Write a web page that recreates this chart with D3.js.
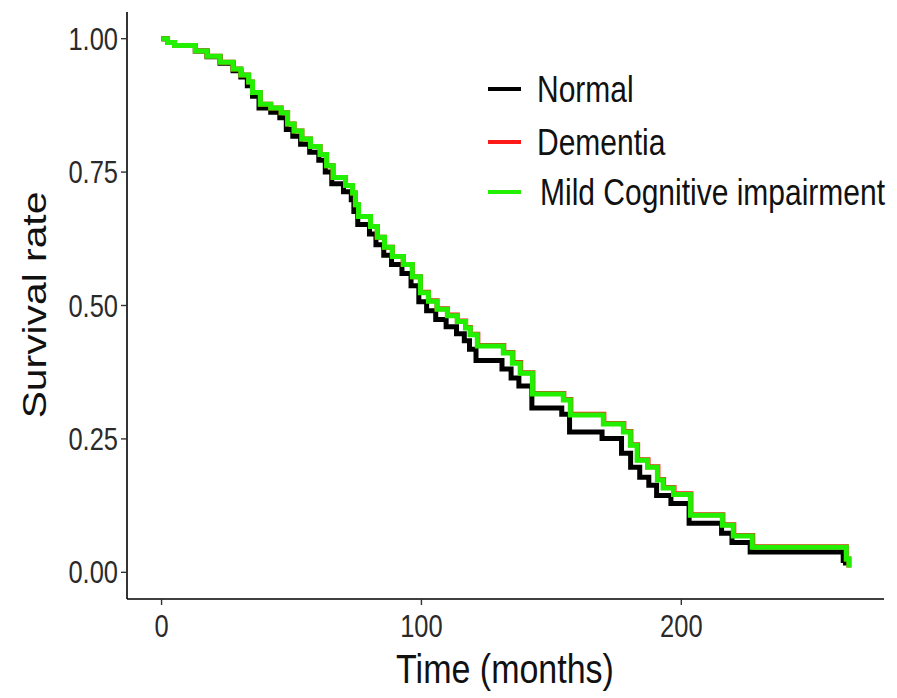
<!DOCTYPE html>
<html>
<head>
<meta charset="utf-8">
<script src="https://cdnjs.cloudflare.com/ajax/libs/d3/7.8.5/d3.min.js"></script>
<style>
  body { margin: 0; background: #fff; }
  text { font-family: "Liberation Sans", Arial, sans-serif; }
</style>
</head>
<body>
<div id="chart"></div>
<script>
// Kaplan-Meier step values (time in months, survival rate)
const normalTime = [0, 2.3, 5, 13, 17.5, 22.5, 27.5, 30.5, 33, 35, 37.5, 42, 45.5, 48, 50.5, 53.5, 57, 60.5, 63, 65.5,
  70, 73, 74, 75.5, 80, 82.5, 85.5, 88.5, 92.5, 96, 99, 102, 105.5, 109.5, 113.5, 116.5, 118.5, 121, 131, 134.5,
  137.5, 142.5, 154, 157, 169.5, 177, 180.5, 184, 187.5, 190.5, 196, 203, 215.5, 219.5, 226.5, 262.3, 263.2];
const normalSurv = [1.000, 0.993, 0.987, 0.977, 0.966, 0.954, 0.940, 0.928, 0.912, 0.892, 0.870, 0.862, 0.852, 0.830,
  0.817, 0.802, 0.787, 0.772, 0.750, 0.728, 0.713, 0.698, 0.676, 0.652, 0.634, 0.614, 0.594, 0.577, 0.560, 0.537,
  0.507, 0.490, 0.474, 0.460, 0.447, 0.434, 0.418, 0.397, 0.381, 0.364, 0.349, 0.308, 0.296, 0.263, 0.251, 0.223,
  0.197, 0.178, 0.163, 0.144, 0.129, 0.092, 0.073, 0.056, 0.038, 0.022, 0.013];

const dementiaTime = [0, 2.3, 5, 13, 17.5, 22.5, 27.5, 30.5, 33.5, 35, 38, 42, 46, 48.5, 51, 54, 57.3, 61, 63.5, 66,
  70.8, 73.5, 74.6, 75.8, 80.4, 83, 85.8, 88.8, 93, 96.5, 99.6, 102.7, 106, 110, 113.8, 117, 118.8, 121.7, 131.7, 135.2,
  138.2, 142.9, 154.8, 157.5, 170.2, 177.9, 180.6, 183.2, 187.2, 191, 193.2, 197.2, 203.7, 216, 220.2, 227.5, 263.5, 264.5];
const dementiaSurv = [1.000, 0.993, 0.987, 0.977, 0.967, 0.956, 0.943, 0.932, 0.919, 0.899, 0.877, 0.870, 0.861, 0.840,
  0.827, 0.812, 0.798, 0.783, 0.762, 0.740, 0.725, 0.711, 0.689, 0.667, 0.648, 0.628, 0.609, 0.592, 0.577, 0.554,
  0.525, 0.509, 0.494, 0.482, 0.471, 0.459, 0.446, 0.425, 0.412, 0.393, 0.374, 0.335, 0.324, 0.296, 0.279, 0.264,
  0.239, 0.211, 0.198, 0.174, 0.159, 0.147, 0.108, 0.089, 0.069, 0.048, 0.025, 0.009];

const mciTime = [0, 2.3, 5, 13, 17.5, 22.5, 27.5, 30.5, 33.5, 35, 38, 42, 46, 48.5, 51, 54, 57.3, 61, 63.5, 66,
  70.8, 73.5, 74.6, 75.8, 80.4, 83, 85.8, 88.8, 93, 96.5, 99.6, 102.7, 106, 110, 113.8, 117, 118.8, 121.5, 131.5, 135,
  138, 142.7, 154.6, 157.3, 170, 177.7, 180.4, 183, 187, 190.8, 193, 197, 203.5, 215.8, 220, 227.3, 263.5, 264.5];
const mciSurv = [1.000, 0.993, 0.987, 0.977, 0.967, 0.956, 0.943, 0.932, 0.919, 0.899, 0.877, 0.870, 0.861, 0.840,
  0.827, 0.812, 0.798, 0.783, 0.762, 0.740, 0.725, 0.711, 0.689, 0.667, 0.648, 0.628, 0.609, 0.592, 0.577, 0.554,
  0.524, 0.508, 0.493, 0.481, 0.470, 0.458, 0.445, 0.424, 0.411, 0.392, 0.373, 0.334, 0.323, 0.295, 0.278, 0.263,
  0.238, 0.210, 0.197, 0.173, 0.158, 0.146, 0.107, 0.088, 0.068, 0.047, 0.025, 0.009];

const groupNames = ['Normal', 'Dementia', 'Mild Cognitive impairment'];
const groupColors = ['#000000', '#ff1a1a', '#22f000'];
const yTicks = [0, 0.25, 0.5, 0.75, 1];
const xTicks = [0, 100, 200];

const width = 897;
const height = 698;
const stretch = 1.2; // the source image text looks vertically stretched

const series = [
  { name: groupNames[0], color: groupColors[0], values: normalTime.map((t, i) => ({ t, s: normalSurv[i] })) },
  { name: groupNames[1], color: groupColors[1], values: dementiaTime.map((t, i) => ({ t, s: dementiaSurv[i] })) },
  { name: groupNames[2], color: groupColors[2], values: mciTime.map((t, i) => ({ t, s: mciSurv[i] })) },
];

const svg = d3.select('#chart').append('svg').attr('width', width).attr('height', height);

// Scales include ggplot's 5% expansion on each side
const x = d3.scaleLinear().domain([-13.3, 278]).range([127, 884]);
const y = d3.scaleLinear().domain([-0.05, 1.05]).range([599, 12]);

// Axis lines
svg.append('line')
  .attr('x1', x.range()[0]).attr('x2', x.range()[0])
  .attr('y1', y.range()[0]).attr('y2', y.range()[1])
  .attr('stroke', '#000').attr('stroke-width', 1.6);
svg.append('line')
  .attr('x1', x.range()[0]).attr('x2', x.range()[1])
  .attr('y1', y.range()[0]).attr('y2', y.range()[0])
  .attr('stroke', '#000').attr('stroke-width', 1.6);

// Y ticks + labels
const yg = svg.append('g').selectAll('g').data(yTicks).enter().append('g');
yg.append('line')
  .attr('x1', 121).attr('x2', 127)
  .attr('y1', (d) => y(d)).attr('y2', (d) => y(d))
  .attr('stroke', '#333').attr('stroke-width', 1.4);
yg.append('text')
  .attr('transform', (d) => `translate(118,${y(d)}) scale(1,${stretch})`)
  .attr('text-anchor', 'end')
  .attr('dy', '0.36em')
  .attr('font-size', '25.5px')
  .attr('fill', '#2a2a2a')
  .text((d) => d3.format('.2f')(d));

// X ticks + labels
const xg = svg.append('g').selectAll('g').data(xTicks).enter().append('g');
xg.append('line')
  .attr('x1', (d) => x(d)).attr('x2', (d) => x(d))
  .attr('y1', 599).attr('y2', 605)
  .attr('stroke', '#333').attr('stroke-width', 1.4);
xg.append('text')
  .attr('transform', (d) => `translate(${x(d)},637) scale(1,${stretch})`)
  .attr('text-anchor', 'middle')
  .attr('font-size', '25.5px')
  .attr('fill', '#2a2a2a')
  .text((d) => d);

// Axis titles
svg.append('text')
  .attr('transform', `translate(505,683) scale(1,${stretch})`)
  .attr('text-anchor', 'middle')
  .attr('font-size', '34px')
  .attr('fill', '#111')
  .text('Time (months)');
svg.append('text')
  .attr('transform', `translate(46,305) scale(1,${stretch}) rotate(-90)`)
  .attr('text-anchor', 'middle')
  .attr('font-size', '34px')
  .attr('fill', '#111')
  .text('Survival rate');

// Survival curves
const line = d3.line()
  .x((d) => x(d.t))
  .y((d) => y(d.s))
  .curve(d3.curveStepAfter);

svg.append('g')
  .selectAll('path')
  .data(series)
  .enter()
  .append('path')
  .attr('d', (d) => line(d.values))
  .attr('fill', 'none')
  .attr('stroke', (d) => d.color)
  .attr('stroke-width', 5)
  .attr('stroke-linejoin', 'miter');

// Legend
const legendY = [89, 142, 192];
const leg = svg.append('g').selectAll('g').data(series).enter().append('g');
leg.append('line')
  .attr('x1', 488).attr('x2', 521)
  .attr('y1', (d, i) => legendY[i]).attr('y2', (d, i) => legendY[i])
  .attr('stroke', (d) => d.color)
  .attr('stroke-width', 4);
leg.append('text')
  .attr('transform', (d, i) => `translate(${i === 2 ? 540 : 537},${legendY[i]}) scale(1,${stretch})`)
  .attr('dy', '0.36em')
  .attr('font-size', '30px')
  .attr('fill', '#111')
  .text((d) => d.name);
</script>
</body>
</html>
